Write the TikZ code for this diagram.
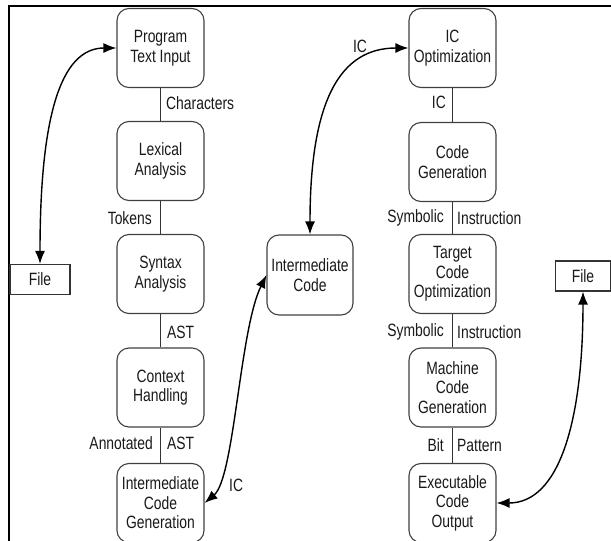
\documentclass[tikz,border=0pt]{standalone}
\usepackage{fontspec}
\setmainfont[FakeStretch=0.78]{Liberation Sans}
\usetikzlibrary{arrows.meta}
\begin{document}
\begin{tikzpicture}[x=1pt,y=-1pt,
  txt/.style={font=\fontsize{17.8}{19.5}\selectfont, text=black!90},
  proc/.style={txt, draw=black!75, line width=1.1pt, rounded corners=12pt,
    minimum width=87pt, minimum height=79pt, align=center, inner sep=1pt},
  filebox/.style={txt, draw=black!80, line width=1.1pt, minimum height=30pt, inner sep=0pt},
  lbl/.style={txt, inner sep=0pt},
  link/.style={draw=black!80, line width=0.9pt},
  biarrow/.style={line width=1.4pt, {Latex[length=13pt,width=10pt]}-{Latex[length=13pt,width=10pt]}}]
\useasboundingbox (0,0) rectangle (611,541);
\draw[line width=2pt] (611,6) -- (9,6) -- (9,541);

% left column
\node[proc] (pti) at (160.5,48) {Program\\Text Input};
\node[proc] (lex) at (160.5,161) {Lexical\\Analysis};
\node[proc] (syn) at (160.5,274) {Syntax\\Analysis};
\node[proc] (ctx) at (160.5,387.5) {Context\\Handling};
\node[proc] (icg) at (160.5,503) {Intermediate\\Code\\Generation};

% middle
\node[proc, minimum width=86pt, minimum height=80pt] (ic) at (310,275) {Intermediate\\Code};

% right column
\node[proc] (ico) at (452.5,48) {IC\\Optimization};
\node[proc] (cg) at (452.5,162) {Code\\Generation};
\node[proc] (tco) at (452.5,274) {Target\\Code\\Optimization};
\node[proc] (mcg) at (452.5,387.5) {Machine\\Code\\Generation};
\node[proc] (eco) at (452.5,503) {Executable\\Code\\Output};

% files
\node[filebox, minimum width=60pt] (f1) at (40,279.5) {File};
\node[filebox, minimum width=55pt] (f2) at (583,276) {File};

% straight links
\draw[link] (pti) -- (lex);
\draw[link] (lex) -- (syn);
\draw[link] (syn) -- (ctx);
\draw[link] (ctx) -- (icg);
\draw[link] (ico) -- (cg);
\draw[link] (cg) -- (tco);
\draw[link] (tco) -- (mcg);
\draw[link] (mcg) -- (eco);

% link labels
\node[lbl, anchor=west] (l1) at (166,103) {Characters};
\node[lbl, anchor=east] (l2) at (152,218) {Tokens};
\node[lbl, anchor=west] (l3) at (167,332) {AST};
\node[lbl, anchor=east] (l4) at (153,443) {Annotated};
\node[lbl, anchor=west] (l5) at (167,443) {AST};
\node[lbl, anchor=west] (l6) at (229,485) {IC};
\node[lbl] (l7) at (360,46) {IC};
\node[lbl, anchor=east] (l8) at (446,102) {IC};
\node[lbl, anchor=east] (l9) at (444,218) {Symbolic};
\node[lbl, anchor=west] (l10) at (457,218) {Instruction};
\node[lbl, anchor=east] (l11) at (444,332) {Symbolic};
\node[lbl, anchor=west] (l12) at (457,332) {Instruction};
\node[lbl, anchor=east] (l13) at (444,445) {Bit};
\node[lbl, anchor=west] (l14) at (457,445) {Pattern};

% curved double arrows
\draw[biarrow] (f1.north) .. controls +(0,-144) and +(-57,0) .. (pti.west);
\draw[biarrow] (icg.east) .. controls +(30,-25) and +(-27,55) .. (ic.west);
\draw[biarrow] (ic.north) .. controls +(0,-135) and +(-68,0) .. (ico.west);
\draw[biarrow] (f2.south) .. controls +(0,129) and +(63,0) .. (eco.east);
\end{tikzpicture}
\end{document}
